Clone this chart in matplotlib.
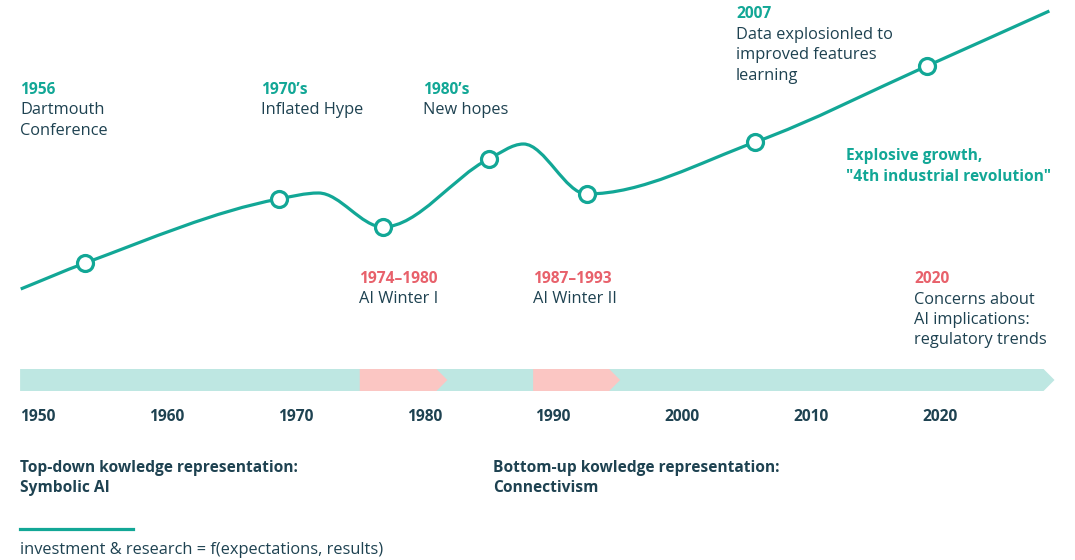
import matplotlib
matplotlib.use("Agg")
import matplotlib.pyplot as plt
from matplotlib.path import Path
from matplotlib.patches import PathPatch, Polygon
from matplotlib.lines import Line2D
import numpy as np

# ---------------- data ----------------
curve_years = [1948.7, 1953.7, 1968.7, 1971.8, 1976.8, 1985.0, 1987.7, 1992.6, 2005.7, 2019.0, 2028.5]
curve_level = [11, 37, 101, 107, 73, 141, 156, 106, 158, 234, 289]
marker_idx = [1, 2, 4, 5, 7, 8, 9]

tick_years = [1950, 1960, 1970, 1980, 1990, 2000, 2010, 2020]
tick_labels = ["1950", "1960", "1970", "1980", "1990", "2000", "2010", "2020"]

timeline_span = (1948.65, 2028.9)
winter_spans = [(1975.0, 1981.8), (1988.45, 1995.2)]

events_teal = [
    ("1956", ["Dartmouth", "Conference"]),
    ("1970\u2019s", ["Inflated Hype"]),
    ("1980\u2019s", ["New hopes"]),
    ("2007", ["Data explosionled to", "improved features", "learning"]),
]
events_pink = [
    ("1974\u20131980", ["AI Winter I"]),
    ("1987\u20131993", ["AI Winter II"]),
    ("2020", ["Concerns about", "AI implications:", "regulatory trends"]),
]
growth_text = ["Explosive growth,", "\"4th industrial revolution\""]
paradigms = [
    ["Top-down kowledge representation:", "Symbolic AI"],
    ["Bottom-up kowledge representation:", "Connectivism"],
]
legend_text = "investment & research = f(expectations, results)"

# ---------------- style ----------------
TEAL = "#12a796"
TEAL_LIGHT = "#bee7e2"
PINK = "#e8616b"
PINK_LIGHT = "#fbc6c3"
DARK = "#1e4251"
FONT = ["Open Sans", "DejaVu Sans"]
FS = 11.8
FS_BOLD = 11.2
W, H = 1075, 560
LINE_GAP = 20.5
TIP = 0.85

plt.rcParams["font.family"] = FONT

fig = plt.figure(figsize=(W / 100, H / 100), dpi=100)
ax = fig.add_axes([0, 0, 1, 1])
px_per_year = 12.89
x0 = 1950 - 37.5 / px_per_year
ax.set_xlim(x0, x0 + W / px_per_year)
ax.set_ylim(300 - H, 300)
ax.axis("off")


def P(px, py):
    return px / W, 1 - py / H


# timeline band
band_lo, band_hi = -91, -69
mid = (band_lo + band_hi) / 2


def arrow_poly(xs, xe, color, z):
    pts = [(xs, band_lo), (xe - TIP, band_lo), (xe, mid), (xe - TIP, band_hi), (xs, band_hi)]
    ax.add_patch(Polygon(pts, closed=True, facecolor=color, edgecolor="none", zorder=z))


arrow_poly(timeline_span[0], timeline_span[1], TEAL_LIGHT, 1)
for s, e in winter_spans:
    arrow_poly(s, e, PINK_LIGHT, 2)

for yr, lab in zip(tick_years, tick_labels):
    ax.text(yr, -121, lab, ha="center", va="baseline", fontsize=FS_BOLD, fontweight="bold", color=DARK)

# smooth curve (monotone cubic Hermite as bezier segments)
x = np.array(curve_years, float)
y = np.array(curve_level, float)
h = np.diff(x)
d = np.diff(y) / h
m = np.zeros_like(y)
m[0], m[-1] = d[0], d[-1]
for k in range(1, len(x) - 1):
    if d[k - 1] * d[k] <= 0:
        m[k] = 0
    else:
        w1 = 2 * h[k] + h[k - 1]
        w2 = h[k] + 2 * h[k - 1]
        m[k] = (w1 + w2) / (w1 / d[k - 1] + w2 / d[k])
verts = [(x[0], y[0])]
codes = [Path.MOVETO]
for k in range(len(x) - 1):
    verts += [(x[k] + h[k] / 3, y[k] + m[k] * h[k] / 3),
              (x[k + 1] - h[k] / 3, y[k + 1] - m[k + 1] * h[k] / 3),
              (x[k + 1], y[k + 1])]
    codes += [Path.CURVE4] * 3
ax.add_patch(PathPatch(Path(verts, codes), facecolor="none", edgecolor=TEAL, lw=2.3,
                       capstyle="butt", zorder=3))
ax.plot([x[i] for i in marker_idx], [y[i] for i in marker_idx], "o", ms=11.5,
        mfc="white", mec=TEAL, mew=2.3, zorder=4)


def block(px, py, head, lines, head_color, body_color=DARK, body_weight="normal"):
    fx, fy = P(px, py)
    if head is not None:
        fig.text(fx, fy, head, ha="left", va="baseline", fontsize=FS_BOLD, fontweight="bold", color=head_color)
        start = 1
    else:
        start = 0
    size = FS_BOLD if body_weight == "bold" else FS
    for i, ln in enumerate(lines):
        fx, fy = P(px, py + (i + start) * LINE_GAP)
        fig.text(fx, fy, ln, ha="left", va="baseline", fontsize=size, fontweight=body_weight, color=body_color)


teal_pos = [(20, 94), (261, 94), (423, 94), (736, 18.3)]
for (px, py), (head, lines) in zip(teal_pos, events_teal):
    block(px, py, head, lines, TEAL)
pink_pos = [(359, 282.7), (533, 282.7), (914, 283)]
for (px, py), (head, lines) in zip(pink_pos, events_pink):
    block(px, py, head, lines, PINK)
block(846, 160, None, growth_text, TEAL, body_color=TEAL, body_weight="bold")
block(20, 472, None, paradigms[0], DARK, body_weight="bold")
block(493, 472, None, paradigms[1], DARK, body_weight="bold")

# legend
fig.add_artist(Line2D([20 / W, 133 / W], [1 - 529 / H] * 2, color=TEAL, lw=2.3))
fx, fy = P(20, 554)
fig.text(fx, fy, legend_text, ha="left", va="baseline", fontsize=FS, color=DARK)

fig.savefig("out.png", dpi=100, facecolor="white")
